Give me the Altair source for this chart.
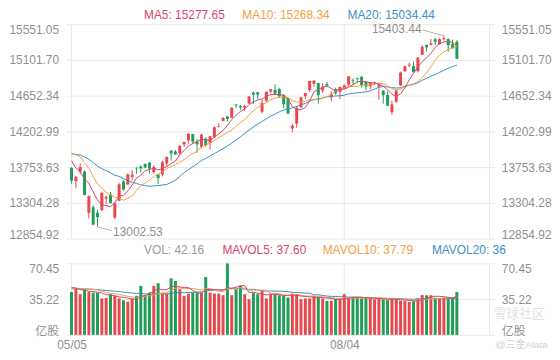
import altair as alt
import numpy as np
import pandas as pd

# ---------------- data ----------------
dates = [
    "05/05", "05/06", "05/07", "05/10", "05/11", "05/12", "05/13", "05/14", "05/17", "05/18",
    "05/19", "05/20", "05/21", "05/24", "05/25", "05/26", "05/27", "05/28",
    "06/01", "06/02", "06/03", "06/04", "06/07", "06/08", "06/09", "06/10", "06/11", "06/14",
    "06/15", "06/16", "06/17", "06/18", "06/21", "06/22", "06/23", "06/24", "06/25", "06/28",
    "06/29", "06/30",
    "07/01", "07/02", "07/06", "07/07", "07/08", "07/09", "07/12", "07/13", "07/14", "07/15",
    "07/16", "07/19", "07/20", "07/21", "07/22", "07/23", "07/26", "07/27", "07/28", "07/29",
    "07/30",
    "08/02", "08/03", "08/04", "08/05", "08/06", "08/09", "08/10", "08/11", "08/12", "08/13",
    "08/16", "08/17", "08/18", "08/19", "08/20", "08/23", "08/24", "08/25", "08/26", "08/27",
    "08/30", "08/31",
    "09/01", "09/02", "09/03", "09/07", "09/08", "09/09", "09/10",
]
opens = [
    13740, 13577, 13694, 13700, 13180, 13249, 13180, 13213, 13358, 13410,
    13120, 13330, 13573, 13535, 13630, 13745, 13760, 13793,
    13810, 13690, 13660, 13660, 13800, 13960, 13950, 13930, 14040, 14090,
    14170, 14075, 14010, 14110, 14060, 14130, 14262, 14335, 14390, 14375,
    14540, 14520,
    14500, 14555, 14690, 14695, 14450, 14590, 14705, 14725, 14735, 14660,
    14620, 14240, 14300, 14505, 14645, 14720, 14800, 14810, 14715, 14800,
    14630,
    14735, 14700, 14740, 14790, 14845, 14870, 14890, 14825, 14770, 14815,
    14765, 14715, 14660, 14445, 14575, 14780, 14960, 15030, 15025, 14960,
    15165, 15290,
    15290, 15360, 15300, 15362, 15365, 15300, 15330,
]
highs = [
    13753, 13641, 13800, 13710, 13397, 13275, 13220, 13442, 13398, 13440,
    13310, 13556, 13592, 13675, 13716, 13752, 13776, 13800,
    13815, 13777, 13668, 13833, 13885, 13966, 13969, 14035, 14074, 14175,
    14173, 14109, 14175, 14128, 14144, 14265, 14305, 14383, 14393, 14506,
    14546, 14535,
    14535, 14646, 14704, 14697, 14598, 14702, 14734, 14794, 14752, 14668,
    14632, 14299, 14521, 14631, 14684, 14837, 14847, 14813, 14807, 14822,
    14704,
    14752, 14768, 14792, 14896, 14869, 14878, 14896, 14829, 14818, 14828,
    14801, 14719, 14705, 14586, 14736, 14953, 15030, 15067, 15080, 15139,
    15288, 15294,
    15366, 15376, 15374, 15403.44, 15370, 15356, 15349,
]
lows = [
    13544, 13485, 13665, 13401, 13108, 13020, 13002.53, 13200, 13294, 13290,
    13098, 13326, 13460, 13528, 13587, 13668, 13683, 13740,
    13674, 13670, 13541, 13636, 13761, 13835, 13908, 13902, 14006, 14047,
    14045, 13934, 13988, 14010, 13973, 14117, 14251, 14328, 14327, 14369,
    14494, 14472,
    14460, 14546, 14548, 14612, 14428, 14574, 14678, 14671, 14621, 14495,
    14420, 14190, 14250, 14496, 14608, 14699, 14760, 14551, 14690, 14756,
    14585,
    14663, 14609, 14729, 14772, 14782, 14810, 14753, 14719, 14728, 14785,
    14603, 14550, 14520, 14411, 14564, 14777, 14949, 15012, 14945, 14946,
    15162, 15208,
    15285, 15286, 15295, 15345, 15201, 15248, 15112,
]
closes = [
    13582.42, 13632.84, 13752.24, 13401.86, 13389.43, 13031.68, 13124.99, 13429.98, 13379.05, 13303.64,
    13299.74, 13535.74, 13470.99, 13661.17, 13657.17, 13738.00, 13736.28, 13748.74,
    13736.48, 13756.33, 13614.51, 13814.49, 13881.72, 13924.98, 13911.75, 14020.33, 14069.42, 14174.14,
    14072.86, 14039.68, 14161.35, 14030.38, 14141.48, 14253.27, 14271.73, 14369.71, 14360.39, 14500.51,
    14528.33, 14503.95,
    14522.38, 14639.33, 14663.64, 14665.06, 14559.79, 14701.92, 14733.24, 14677.65, 14644.95, 14543.13,
    14427.24, 14274.98, 14498.88, 14631.95, 14684.60, 14836.99, 14840.71, 14660.58, 14762.58, 14778.26,
    14672.68,
    14681.07, 14761.29, 14780.53, 14895.12, 14835.76, 14860.18, 14788.09, 14765.14, 14816.26, 14822.90,
    14793.76, 14656.18, 14525.91, 14541.79, 14714.66, 14942.65, 15019.80, 15041.86, 14945.81, 15129.50,
    15265.89, 15259.24,
    15309.38, 15331.18, 15363.52, 15374.33, 15286.64, 15248.25, 15115.49,
]
volumes = [
    42.3, 45.6, 40.1, 44.3, 42.3, 41.7, 41.7, 35.9, 36.5, 40.1,
    38.5, 35.9, 34.0, 32.6, 35.6, 38.5, 48.3, 39.1,
    41.7, 48.3, 50.9, 41.7, 40.7, 55.7, 53.2, 45.0, 38.5, 40.7,
    41.7, 41.7, 41.7, 57.0, 41.7, 40.7, 40.7, 39.1, 70.45, 39.1,
    45.0, 48.3,
    40.1, 35.2, 41.7, 40.1, 43.4, 35.9, 40.1, 40.1, 39.1, 38.5,
    36.9, 40.7, 40.1, 35.2, 35.9, 35.9, 38.5, 37.8, 35.9, 33.5,
    33.5,
    35.2, 35.9, 40.1, 35.9, 36.9, 36.9, 35.9, 35.9, 35.9, 35.0,
    35.6, 34.8, 34.2, 35.3, 34.9, 33.6, 33.2, 32.5, 33.0, 36.0,
    39.2, 39.0,
    39.1, 36.6, 36.2, 36.8, 36.5, 36.34, 42.16,
]
# sessions before 05/05 (needed only to start the moving averages)
warmup_closes = [
    13829.31, 13900.19, 13850.00, 13996.10, 13857.84, 14038.76, 14052.34, 13914.77, 13786.27, 13950.22,
    13818.41, 14016.81, 14138.78, 14090.22, 14051.03, 14082.55, 13962.68, 13895.12, 13633.50,
]
warmup_volumes = [
    43.5, 44.2, 41.8, 46.0, 47.3, 45.1, 48.7, 44.0, 46.9, 43.2,
    45.8, 44.6, 42.9, 43.8, 46.5, 47.1, 48.9, 45.3, 49.6,
]
price_ticks = [12854.92, 13304.28, 13753.63, 14202.99, 14652.34, 15101.70, 15551.05]
volume_ticks = [0, 35.22, 70.45]
x_label_dates = ["05/05", "08/04"]

# ---------------- styling / layout ----------------
FONT = "Liberation Sans, Arial, 'Noto Sans CJK SC', sans-serif"
LABEL = "#8f8f8f"
GRID = "#e9e9e9"
UP, DOWN = "#e8474c", "#1e9e57"
UP_V, DOWN_V = "#ee6464", "#27a35c"
C5, C10, C20 = "#d9456a", "#f2a03d", "#3d8fc8"

PLOT_W, PLOT_H = 431, 313
PRICE_H = 216          # height of the price panel
VOL_TOP = 241          # from plot top to the volume max gridline
PX_PER_BAR = 4.465
X_MAX = PLOT_W / PX_PER_BAR

# ---------------- derived table ----------------
w = len(warmup_closes)
ac = pd.Series(warmup_closes + closes)
av = pd.Series(warmup_volumes + volumes)
df = pd.DataFrame({
    "i": list(range(len(closes))), "date": dates,
    "open": opens, "high": highs, "low": lows, "close": closes, "vol": volumes,
    "ma5": ac.rolling(5).mean().iloc[w:].values,
    "ma10": ac.rolling(10).mean().iloc[w:].values,
    "ma20": ac.rolling(20).mean().iloc[w:].values,
    "mv5": av.rolling(5).mean().iloc[w:].values,
    "mv10": av.rolling(10).mean().iloc[w:].values,
    "mv20": av.rolling(20).mean().iloc[w:].values,
})
df["dir"] = np.where(df["close"] >= df["open"], "up", "down")

price_per_px = (price_ticks[-1] - price_ticks[0]) / PRICE_H
price_scale = alt.Scale(domain=[price_ticks[-1] - PLOT_H * price_per_px, price_ticks[-1]], nice=False, zero=False)
vol_per_px = volume_ticks[-1] / (PLOT_H - VOL_TOP)
vol_scale = alt.Scale(domain=[0, PLOT_H * vol_per_px], nice=False, zero=False)
x_scale = alt.Scale(domain=[0, X_MAX], nice=False, zero=False)

tick_idx = [dates.index(d) for d in x_label_dates]
x_axis = alt.Axis(values=tick_idx,
                  labelExpr=f"datum.value == {tick_idx[0]} ? '{x_label_dates[0]}' : '{x_label_dates[1]}'",
                  grid=False, ticks=False, domain=False, labelFlush=True, labelColor=LABEL,
                  labelFont=FONT, labelFontSize=12, labelPadding=5, title=None)
X = alt.X("i:Q", scale=x_scale, axis=x_axis)

p_base = {"condition": [{"test": f"datum.value >= {price_ticks[-1]}", "value": "top"},
                        {"test": f"datum.value <= {price_ticks[0]}", "value": "alphabetic"}],
          "value": "middle"}
v_base = {"condition": [{"test": f"datum.value >= {volume_ticks[-1]}", "value": "top"},
                        {"test": "datum.value <= 0", "value": "alphabetic"}],
          "value": "middle"}


def price_axis(orient):
    return alt.Axis(orient=orient, values=price_ticks, format=".2f", grid=(orient == "left"),
                    gridColor=GRID, ticks=False, domain=False,
                    labelPadding=8 if orient == "left" else 7, labelColor=LABEL, labelFont=FONT,
                    labelFontSize=12, labelBaseline=p_base, title=None)


def vol_axis(orient):
    return alt.Axis(orient=orient, values=volume_ticks,
                    labelExpr="datum.value == 0 ? '亿股' : format(datum.value, '.2f')",
                    grid=(orient == "left"), gridColor=GRID, ticks=False, domain=False,
                    labelPadding=8 if orient == "left" else 7, labelColor=LABEL, labelFont=FONT,
                    labelFontSize=12, labelBaseline=v_base, title=None)


PY_L = lambda f: alt.Y(f, scale=price_scale, axis=price_axis("left"))
PY_R = lambda f: alt.Y(f, scale=price_scale, axis=price_axis("right"))
VY_L = lambda f: alt.Y(f, scale=vol_scale, axis=vol_axis("left"))
VY_R = lambda f: alt.Y(f, scale=vol_scale, axis=vol_axis("right"))

base = alt.Chart(df)
vgrid = alt.Chart(pd.DataFrame({"x": [0, tick_idx[1], X_MAX]}))

# ----- price panel -----
p_vgrid = vgrid.mark_rule(color=GRID, strokeWidth=1).encode(
    x=alt.X("x:Q", scale=x_scale, axis=x_axis),
    y=alt.Y(datum=price_ticks[-1], type="quantitative", scale=price_scale, axis=price_axis("left")),
    y2=alt.Y2(datum=price_ticks[0]))
candle_color = alt.Color("dir:N", scale=alt.Scale(domain=["up", "down"], range=[UP, DOWN]), legend=None)
wick = base.mark_rule(strokeWidth=1).encode(x=X, y=PY_L("low:Q"), y2="high:Q", color=candle_color)
body = base.mark_bar(width=3).encode(x=X, y=PY_L("open:Q"), y2="close:Q", color=candle_color)

# max / min annotations
imax = int(np.argmax(highs))
imin = int(np.argmin(lows))
ann = pd.DataFrame({
    "x": [imax, imin],
    "y": [highs[imax], lows[imin]],
    "x2": [imax - 22 / PX_PER_BAR, imin + 15 / PX_PER_BAR],
    "y2": [highs[imax] + 6 * price_per_px, lows[imin] - 4 * price_per_px],
    "t": [f"{highs[imax]:.2f}", f"{lows[imin]:.2f}"],
    "side": ["max", "min"],
})
ann_line = alt.Chart(ann).mark_rule(color="#a0a0a0", strokeWidth=0.8).encode(
    x=alt.X("x:Q", scale=x_scale, axis=x_axis), x2="x2:Q", y=PY_L("y:Q"), y2="y2:Q")
ann_max = alt.Chart(ann).transform_filter("datum.side == 'max'").mark_text(
    align="right", baseline="middle", dx=-1, dy=-1, fontSize=12, font=FONT, color=LABEL).encode(
    x=alt.X("x2:Q", scale=x_scale, axis=x_axis), y=PY_L("y2:Q"), text="t:N")
ann_min = alt.Chart(ann).transform_filter("datum.side == 'min'").mark_text(
    align="left", baseline="middle", dx=1, dy=1, fontSize=12, font=FONT, color=LABEL).encode(
    x=alt.X("x2:Q", scale=x_scale, axis=x_axis), y=PY_L("y2:Q"), text="t:N")

price_left = alt.layer(p_vgrid, wick, body, ann_line, ann_max, ann_min)
price_right = alt.layer(
    base.mark_line(strokeWidth=1, color=C20).encode(x=X, y=PY_R("ma20:Q")),
    base.mark_line(strokeWidth=1, color=C10).encode(x=X, y=PY_R("ma10:Q")),
    base.mark_line(strokeWidth=1, color=C5).encode(x=X, y=PY_R("ma5:Q")),
)

# ----- volume panel -----
v_vgrid = vgrid.mark_rule(color=GRID, strokeWidth=1).encode(
    x=alt.X("x:Q", scale=x_scale, axis=x_axis),
    y=alt.Y(datum=volume_ticks[-1], type="quantitative", scale=vol_scale, axis=vol_axis("left")),
    y2=alt.Y2(datum=0))
vol_color = alt.Color("dir:N", scale=alt.Scale(domain=["up", "down"], range=[UP_V, DOWN_V]), legend=None)
vol_bars = base.mark_bar(width=3).encode(x=X, y=VY_L("vol:Q"), color=vol_color)
vol_left = alt.layer(v_vgrid, vol_bars)
vol_right = alt.layer(
    base.mark_line(strokeWidth=1, color=C20).encode(x=X, y=VY_R("mv20:Q")),
    base.mark_line(strokeWidth=1, color=C10).encode(x=X, y=VY_R("mv10:Q")),
    base.mark_line(strokeWidth=1, color=C5).encode(x=X, y=VY_R("mv5:Q")),
)


# ----- header / watermark texts -----
def fmt(v):
    s = f"{v:.2f}"
    return s[:-3] if s.endswith(".00") else s


last = df.iloc[-1]
headers = [
    (f"MA5: {fmt(last.ma5)}", C5, 78, -9),
    (f"MA10: {fmt(last.ma10)}", C10, 177, -9),
    (f"MA20: {fmt(last.ma20)}", C20, 283, -9),
    (f"VOL: {fmt(last.vol)}", "#999999", 78, 228),
    (f"MAVOL5: {fmt(last.mv5)}", C5, 157, 228),
    (f"MAVOL10: {fmt(last.mv10)}", C10, 258, 228),
    (f"MAVOL20: {fmt(last.mv20)}", C20, 368, 228),
]
texts = []
for t, c, x, y in headers:
    texts.append(alt.Chart(pd.DataFrame({"t": [t]})).mark_text(
        align="left", baseline="middle", fontSize=12, font=FONT, color=c).encode(
        x=alt.value(x), y=alt.value(y), text="t:N"))
wm = [("雪球社区", 13, "#e3e3e3", 430, 292), ("@三金Alata", 10, "#d3d3d3", 432, 323)]
for t, s, c, x, y in wm:
    texts.append(alt.Chart(pd.DataFrame({"t": [t]})).mark_text(
        align="left", baseline="middle", fontSize=s, font=FONT, color=c).encode(
        x=alt.value(x), y=alt.value(y), text="t:N"))

chart = alt.layer(price_left, price_right, vol_left, vol_right, *texts).resolve_scale(
    y="independent"
).properties(
    width=PLOT_W, height=PLOT_H, padding={"left": 0, "top": 0, "right": 0, "bottom": 0}
).configure_view(stroke=None)

chart.save("out.html", embed_options={"renderer": "svg", "actions": False})
